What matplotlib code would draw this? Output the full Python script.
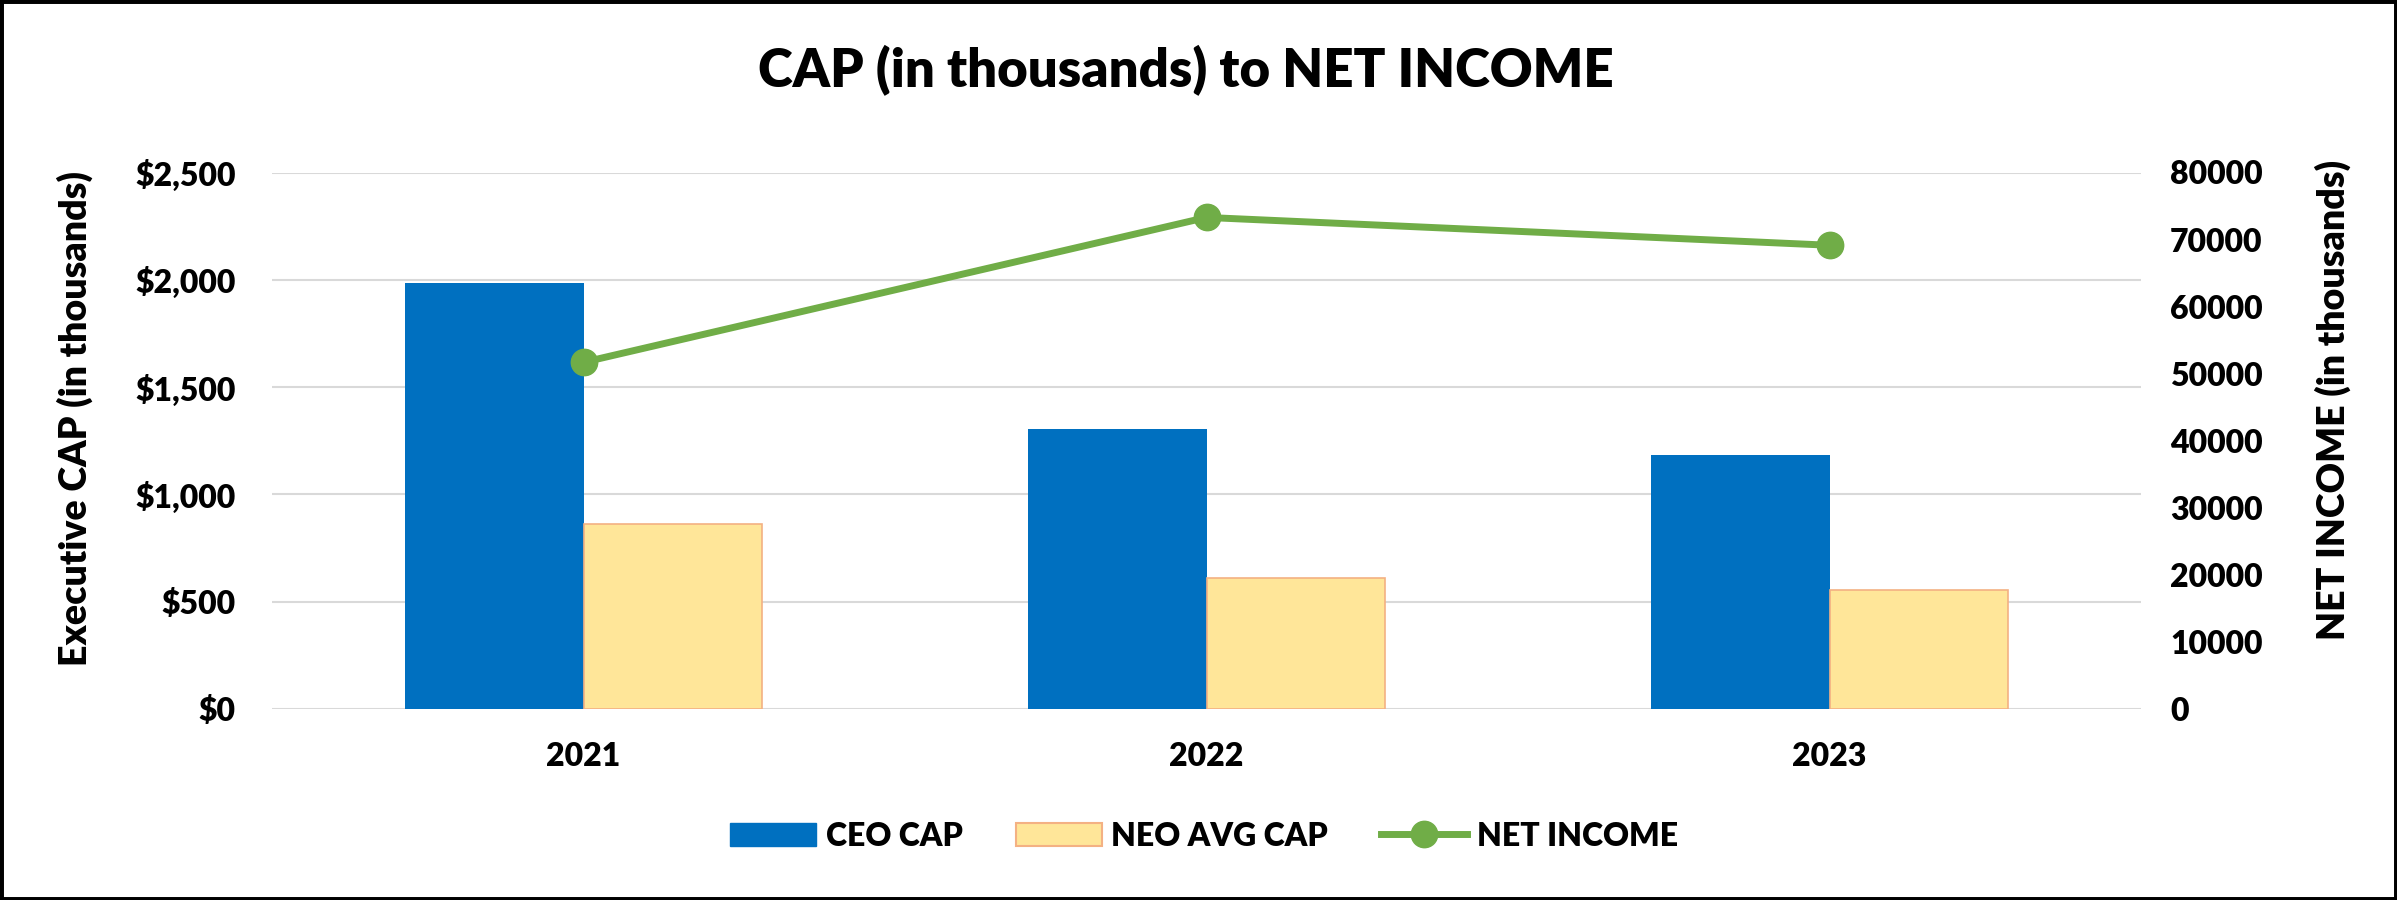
import numpy as np
import matplotlib
matplotlib.use("Agg")
from matplotlib import pyplot as plt
from matplotlib.patches import Rectangle, Patch
from matplotlib.lines import Line2D

plt.rcParams['font.family'] = ['Lato', 'DejaVu Sans']
plt.rcParams['font.weight'] = 'heavy'

# data (in thousands)
years = ['2021', '2022', '2023']
ceo_cap = [1985, 1303, 1182]
neo_avg_cap = [864, 612, 556]
net_income = [51700, 73300, 69150]
left_ticks = [0, 500, 1000, 1500, 2000, 2500]
right_ticks = [0, 10000, 20000, 30000, 40000, 50000, 60000, 70000, 80000]

blue = '#0070C0'
yellow = '#FFE699'
yellow_edge = '#F4B183'
green = '#70AD47'
grid_c = '#D9D9D9'

fig = plt.figure(figsize=(23.97, 9), dpi=100)
ax = fig.add_axes([272/2397, 1-709/900, 1869/2397, (709-172.5)/900])

x = np.arange(len(years))
w = 0.287
ax.bar(x - w/2, ceo_cap, w, color=blue, linewidth=0)
ax.bar(x + w/2, neo_avg_cap, w, color=yellow, edgecolor=yellow_edge, linewidth=1.2)

ax.set_xlim(-0.5, 2.5)
ax.set_ylim(0, 2500)
ax.set_yticks(left_ticks)
ax.set_yticklabels(['${:,}'.format(v) for v in left_ticks])
ax.set_xticks(x)
ax.set_xticklabels(years)
ax.tick_params(axis='y', length=0, pad=26, labelsize=23)
ax.tick_params(axis='x', length=0, pad=24, labelsize=23)
ax.set_axisbelow(True)
ax.yaxis.grid(True, color=grid_c, linewidth=1.5)
for s in ax.spines.values():
    s.set_visible(False)

#linha net income====================>
ax2 = ax.twinx()
ax2.plot(x, net_income, color=green, linewidth=5, marker='o', markersize=19,
         markerfacecolor=green, markeredgecolor=green)
ax2.set_ylim(0, 80000)
ax2.set_yticks(right_ticks)
ax2.tick_params(axis='y', length=0, pad=21, labelsize=23)
for s in ax2.spines.values():
    s.set_visible(False)

# textos
fig.text(1186/2397, 1-87/900, 'CAP (in thousands) to NET INCOME', ha='center',
         va='baseline', fontsize=38)
fig.text(75/2397, 1-418/900, 'Executive CAP (in thousands)', rotation=90,
         ha='center', va='center', fontsize=27)
fig.text(2333/2397, 1-400/900, 'NET INCOME (in thousands)', rotation=90,
         ha='center', va='center', fontsize=27)

handles = [
    Patch(facecolor=blue, edgecolor=blue),
    Patch(facecolor=yellow, edgecolor=yellow_edge, linewidth=1.5),
    Line2D([0], [0], color=green, linewidth=5, marker='o', markersize=19),
]
fig.legend(handles, ['CEO CAP', 'NEO AVG CAP', 'NET INCOME'], loc='center',
           bbox_to_anchor=(1204/2397, 1-836/900), ncol=3, frameon=False,
           fontsize=23, handlelength=2.7, handleheight=0.75, handletextpad=0.3,
           columnspacing=1.65)

# moldura
fig.patches.append(Rectangle((0, 0), 1, 1, transform=fig.transFigure,
                             fill=False, edgecolor='black', linewidth=5))

fig.savefig('out.png', dpi=100)
